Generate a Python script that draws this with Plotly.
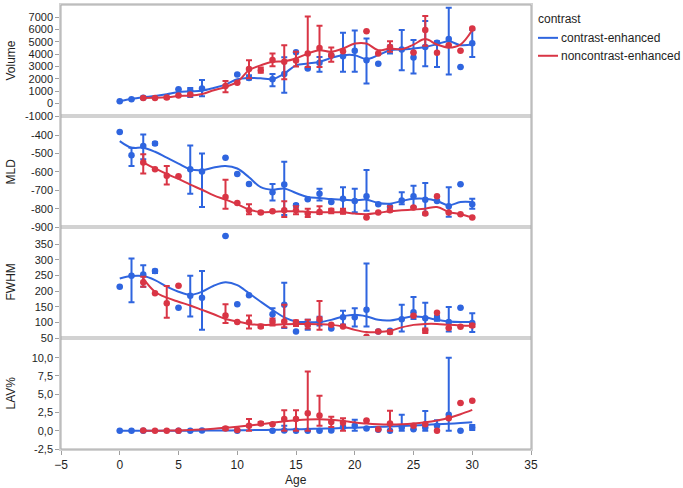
import plotly.graph_objects as go
from plotly.subplots import make_subplots

N = None
ages = list(range(31))

# ---------------- Volume ----------------
vol_ce = [200, 350, 480, N, N, 1160, 1050, 1220, N, N, 2350, 2080, N, 1970, 2400, 4160, 2840, 3300, 3900, 3840,
          4270, 3510, 3220, 4380, 4380, 3730, 4590, 4920, 5220, 2970, 4890]
vol_ce_hi = [N, N, 560, N, N, N, 1270, 1920, N, N, N, 2300, N, 2400, 3760, N, N, 3780, N, 5730,
             5920, 5270, N, 4700, 5950, 5140, 6680, 5050, 7760, N, 5950]
vol_ce_lo = [N, N, 420, N, N, N, 540, 600, N, N, N, 1950, N, 1400, 890, N, N, 2570, N, 2570,
             2570, 1620, N, 4050, 2700, 2430, 3030, 2970, 2350, N, 3780]
vol_ce_fit = [210, 380, 510, 620, 760, 950, 1000, 1050, 1270, 1540, 1970, 2080, 2050, 1990, 2430, 3100, 3240, 3380,
              3700, 3920, 3920, 3600, 3920, 4320, 4380, 4460, 4590, 4810, 5050, 4730, 4780]

vol_nc = [N, N, 460, 460, 490, 650, 730, N, N, 1430, 1680, 2810, 2700, 3540, 3380, 3490, 4050, 4510, 3920, 4240,
          N, 5860, 4050, 4590, N, 4140, 5950, 4110, 4730, 4270, 6080]
vol_nc_hi = [N, N, N, N, 560, N, N, N, N, 1840, N, 3510, 2920, 4050, 4730, 4190, 7050, 6300, 4540, N,
             N, N, N, 5050, N, N, 7100, N, N, N, N]
vol_nc_lo = [N, N, N, N, 420, N, N, N, N, 920, N, 2050, 2490, 3030, 1970, 3000, 2970, 2970, 3380, N,
             N, N, N, 4190, N, N, 4680, N, N, N, N]
vol_nc_fit = [N, N, 460, 470, 510, 620, 650, 780, 1080, 1350, 1760, 2700, 3100, 3380, 3430, 3650, 4050, 4320,
              4190, 4460, 4860, 4860, 4320, 4460, 4400, 4780, 5220, 4780, 4540, 4780, 5950]

# ---------------- MLD ----------------
mld_ce = [-382, -509, -459, -445, N, N, -585, -597, N, -522, -611, -665, N, -710, -669, -782, -749, -719, -764, -746,
          -758, -733, -776, -790, -755, -733, -751, -758, -787, -667, -776]
mld_ce_hi = [N, -468, -396, -438, N, N, -456, -499, N, N, N, N, N, -665, -545, -775, N, -692, N, -683,
             -692, -590, N, N, -710, -675, -660, N, -683, N, -746]
mld_ce_lo = [N, -567, -531, -452, N, N, -719, -791, N, N, N, N, N, -755, -835, -790, N, -755, N, -818,
             -820, -812, N, N, -776, -790, -833, N, -844, N, -800]
mld_ce_fit = [-432, -468, -468, -490, -522, -554, -585, -590, -576, -567, -581, -629, -683, -697, -690, -715, -737,
              -742, -748, -751, -755, -751, -769, -773, -758, -746, -746, -758, -782, -764, -764]

mld_nc = [N, N, -549, -585, -620, -624, N, N, N, -737, -769, -809, -821, -814, -809, -809, -827, -818, -812, -814,
          N, -848, -821, -809, N, -794, -827, -733, -821, -830, -848]
mld_nc_hi = [N, N, -504, N, -567, N, N, N, N, -642, N, -776, -815, N, -759, -787, -800, -787, -800, -800,
             N, N, N, -787, N, N, N, N, N, N, N]
mld_nc_lo = [N, N, -608, N, -669, N, N, N, N, -800, N, -830, -827, N, -846, -830, -845, -829, -825, -828,
             N, N, N, -815, N, N, N, N, N, N, N]
mld_nc_fit = [N, N, -549, -581, -611, -638, -669, -697, -728, -751, -776, -805, -818, -818, -814, -814, -818, -820,
              -820, -820, -827, -830, -823, -814, -809, -805, -800, -791, -818, -830, -848]

# ---------------- FWHM ----------------
fw_ce = [214, 249, 253, 264, N, 147, 185, 179, N, 376, 158, 187, N, 126, 156, 71, 92, 103, 80, 116,
         116, 140, 71, 73, 110, 132, 113, 113, 101, 147, 98]
fw_ce_hi = [N, 304, 283, 268, N, N, 249, 264, N, N, N, N, N, 145, 227, N, 108, 118, N, 137,
            145, 288, N, N, 156, 181, 163, 120, 149, N, 129]
fw_ce_lo = [N, 164, 214, 258, N, N, 119, 76, N, N, N, N, N, 107, 82, N, 76, 90, N, 93,
            87, 87, N, N, 71, 111, 76, 105, 71, N, 69]
fw_ce_fit = [240, 248, 248, 235, 214, 198, 188, 198, 217, 228, 219, 193, 166, 140, 116, 103, 101, 101, 108, 119,
             124, 119, 108, 106, 113, 119, 116, 108, 103, 101, 101]

fw_nc = [N, N, 228, 193, 161, 217, N, N, N, 122, 101, 100, 87, 101, 103, 100, 92, 111, 92, 87,
         N, 54, 71, 69, N, 121, 73, 131, 82, 86, 90]
fw_nc_hi = [N, N, 246, N, 216, N, N, N, N, 158, N, 122, 92, 112, 156, 106, 108, 168, N, N,
            N, N, N, 75, N, N, 80, N, N, N, 95]
fw_nc_lo = [N, N, 214, N, 115, N, N, N, N, 98, N, 80, 83, 90, 84, 88, 80, 76, N, N,
            N, N, N, 64, N, N, 66, N, N, N, 85]
fw_nc_fit = [N, N, 240, 198, 179, 166, 154, 140, 126, 111, 103, 95, 92, 92, 94, 95, 95, 94, 92, 87,
             76, 69, 69, 73, 84, 92, 95, 95, 92, 90, 89]

# ---------------- LAV% ----------------
lav_ce = [0, 0, 0, N, N, 0, 0, 0.05, N, N, 0, N, N, 0, 0.05, 0, 0, 0, 0.05, 0.5,
          0.7, 0.3, 0.15, 0.0, 0.45, 0.2, 0.45, 0.7, 2.2, 0.0, 0.45]
lav_ce_hi = [N, N, N, N, N, N, N, N, N, N, N, N, N, N, 0.7, N, N, N, N, N,
             1.5, N, N, N, 2.2, N, 2.7, 1.45, 10.0, N, 0.8]
lav_ce_lo = [N, N, N, N, N, N, N, N, N, N, N, N, N, N, 0, N, N, N, N, N,
             0, N, N, N, 0, N, 0, 0, 0, N, 0.1]
lav_ce_fit = [0, 0, 0, 0, 0, 0, 0.01, 0.02, 0.03, 0.04, 0.06, 0.08, 0.1, 0.13, 0.16, 0.2, 0.24, 0.28, 0.32, 0.37,
              0.42, 0.47, 0.53, 0.59, 0.66, 0.73, 0.8, 0.88, 0.96, 1.05, 1.15]

lav_nc = [N, N, 0.05, 0, 0, 0, N, N, N, 0.3, 0.1, 0.7, 1.0, 0.9, 1.6, 1.6, 2.4, 2.1, 1.2, 1.1,
          N, 1.4, 0.2, 1.0, N, 0.7, 0.9, 0.0, 1.7, 3.8, 4.1]
lav_nc_hi = [N, N, N, N, N, N, N, N, N, 0.5, N, 1.6, 1.2, N, 2.8, 2.8, 8.1, 4.8, 1.9, 1.7,
             N, N, N, 2.75, N, N, N, N, N, N, N]
lav_nc_lo = [N, N, N, N, N, N, N, N, N, 0.1, N, 0, 0.8, N, 0, 0, 0, 0.7, 0.5, 0,
             N, N, N, 0, N, N, N, N, N, N, N]
lav_nc_fit = [N, N, 0, 0, 0.02, 0.05, 0.1, 0.18, 0.28, 0.4, 0.55, 0.72, 0.9, 1.1, 1.3, 1.45, 1.55, 1.58, 1.5, 1.35,
              1.15, 0.98, 0.88, 0.85, 0.88, 0.98, 1.15, 1.4, 1.75, 2.25, 2.85]

panel_names = ["Volume", "MLD", "FWHM", "LAV%"]
y_ranges = [[-1000, 7980], [-900, -295], [50, 405], [-2.5, 12.7]]
y_tickvals = [[-1000, 0, 1000, 2000, 3000, 4000, 5000, 6000, 7000],
              [-900, -800, -700, -600, -500, -400],
              [50, 100, 150, 200, 250, 300, 350],
              [-2.5, 0, 2.5, 5, 7.5, 10]]
y_ticktext = [["-1000", "0", "1000", "2000", "3000", "4000", "5000", "6000", "7000"],
              ["-900", "-800", "-700", "-600", "-500", "-400"],
              ["50", "100", "150", "200", "250", "300", "350"],
              ["-2,5", "0,0", "2,5", "5,0", "7,5", "10,0"]]
x_tickvals = [-5, 0, 5, 10, 15, 20, 25, 30, 35]
x_title = "Age"
legend_title = "contrast"
series_names = ["contrast-enhanced", "noncontrast-enhanced"]

BLUE = "#2f65df"
RED = "#d93545"
colors = [BLUE, RED]
FONT = "Liberation Sans"
TXT = "#1e1e1e"

panels = [
    [(vol_ce, vol_ce_hi, vol_ce_lo, vol_ce_fit), (vol_nc, vol_nc_hi, vol_nc_lo, vol_nc_fit)],
    [(mld_ce, mld_ce_hi, mld_ce_lo, mld_ce_fit), (mld_nc, mld_nc_hi, mld_nc_lo, mld_nc_fit)],
    [(fw_ce, fw_ce_hi, fw_ce_lo, fw_ce_fit), (fw_nc, fw_nc_hi, fw_nc_lo, fw_nc_fit)],
    [(lav_ce, lav_ce_hi, lav_ce_lo, lav_ce_fit), (lav_nc, lav_nc_hi, lav_nc_lo, lav_nc_fit)],
]

fig = make_subplots(rows=4, cols=1, shared_xaxes=True, vertical_spacing=0)

for r, panel in enumerate(panels, start=1):
    for s, (pts, hi, lo, fit) in enumerate(panel):
        col = colors[s]
        fx = [a for a, v in zip(ages, fit) if v is not None]
        fy = [v for v in fit if v is not None]
        fig.add_trace(go.Scatter(x=fx, y=fy, mode="lines", name=series_names[s],
                                 line=dict(color=col, width=2, shape="spline", smoothing=1.0),
                                 showlegend=False, hoverinfo="skip"), row=r, col=1)
        px, py, ep, em = [], [], [], []
        for a, v, h, l in zip(ages, pts, hi, lo):
            if v is None:
                continue
            px.append(a)
            py.append(v)
            ep.append(None if h is None else h - v)
            em.append(None if l is None else v - l)
        fig.add_trace(go.Scatter(x=px, y=py, mode="markers", name=series_names[s],
                                 marker=dict(color=col, size=6.5),
                                 error_y=dict(type="data", symmetric=False, array=ep, arrayminus=em,
                                              color=col, thickness=2, width=3),
                                 showlegend=False), row=r, col=1)

for r in range(1, 5):
    fig.update_yaxes(row=r, col=1, range=y_ranges[r - 1], tickvals=y_tickvals[r - 1],
                     ticktext=y_ticktext[r - 1], showgrid=False, zeroline=False,
                     showline=True, mirror=True, linecolor="#d2d2d2", linewidth=1.5,
                     ticks="outside", ticklen=4, tickcolor="#a0a0a0",
                     tickfont=dict(family=FONT, size=11, color=TXT))
    fig.update_xaxes(row=r, col=1, range=[-5, 35], tickvals=x_tickvals, showgrid=False, zeroline=False,
                     showline=True, mirror=True, linecolor="#d2d2d2", linewidth=1.5,
                     ticks="outside" if r == 4 else "", ticklen=4, tickcolor="#a0a0a0",
                     tickfont=dict(family=FONT, size=12, color=TXT))

# geometry helpers (plot area: x 61..531 px, y 3..449 px)
PL, PR, PT, PB = 61, 531, 3, 449


def px2x(p):
    return (p - PL) / (PR - PL)


def py2y(p):
    return (PB - p) / (PB - PT)


annotations = []
for i, name in enumerate(panel_names):
    annotations.append(dict(text=name, xref="paper", yref="paper", x=px2x(10), y=1 - (i + 0.5) * 0.25,
                            textangle=-90, showarrow=False, xanchor="center", yanchor="middle",
                            font=dict(family=FONT, size=12, color=TXT)))
annotations.append(dict(text=x_title, xref="paper", yref="paper", x=0.5, y=py2y(480),
                        showarrow=False, xanchor="center", yanchor="middle", borderpad=0,
                        font=dict(family=FONT, size=12, color=TXT)))
# legend (drawn manually to keep the plot area exact)
annotations.append(dict(text=legend_title, xref="paper", yref="paper", x=px2x(536), y=py2y(17),
                        showarrow=False, xanchor="left", yanchor="middle",
                        font=dict(family=FONT, size=12, color=TXT)))
shapes = []
for s, name in enumerate(series_names):
    yy = py2y(36 + 18 * s)
    shapes.append(dict(type="line", xref="paper", yref="paper", x0=px2x(538), x1=px2x(558), y0=yy, y1=yy,
                       line=dict(color=colors[s], width=2)))
    annotations.append(dict(text=name, xref="paper", yref="paper", x=px2x(559), y=yy,
                            showarrow=False, xanchor="left", yanchor="middle",
                            font=dict(family=FONT, size=12, color=TXT)))
shapes.append(dict(type="rect", xref="paper", yref="paper", x0=0, y0=0, x1=1, y1=1,
                   line=dict(color="#a8a8a8", width=1)))

fig.update_layout(
    width=683, height=488,
    margin=dict(l=PL, r=683 - PR, t=PT, b=488 - PB),
    paper_bgcolor="white", plot_bgcolor="white",
    font=dict(family=FONT, size=12, color=TXT),
    showlegend=False,
    annotations=annotations, shapes=shapes,
)

fig.write_html("out.html",
               config={"displayModeBar": False},
               post_script="document.body.style.margin='0';document.body.style.padding='0';"
                           "document.body.style.overflow='hidden';")
